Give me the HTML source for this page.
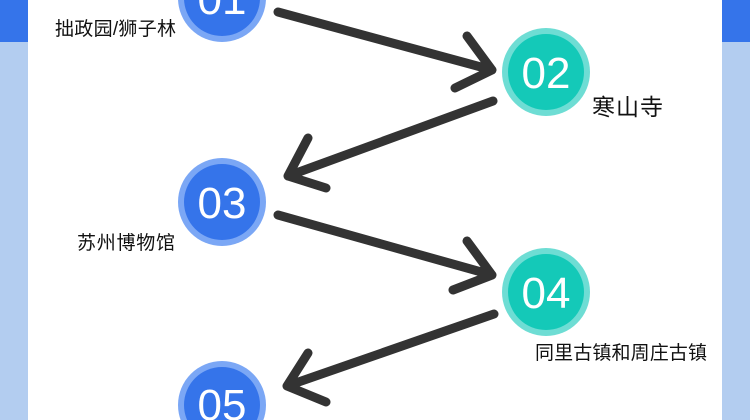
<!DOCTYPE html>
<html><head><meta charset="utf-8"><style>
html,body{margin:0;padding:0;background:#fff;width:750px;height:420px;overflow:hidden;}
body{position:relative;}
svg{position:absolute;left:0;top:0;display:block;}
</style></head><body>
<svg width="750" height="420" viewBox="0 0 750 420" xmlns="http://www.w3.org/2000/svg" overflow="hidden">
<rect x="0" y="0" width="28" height="42" fill="#3574EA"/>
<rect x="0" y="42" width="28" height="378" fill="#B3CDF0"/>
<rect x="722" y="0" width="28" height="42" fill="#3574EA"/>
<rect x="722" y="42" width="28" height="378" fill="#B3CDF0"/>
<g stroke="#333" stroke-width="9" stroke-linecap="round" stroke-linejoin="round" fill="none">
<path d="M278 12 L492 70 M467 36 L492 70 L455 88"/>
<path d="M493 101 L288 176 M308 138 L288 176 L326 188"/>
<path d="M278 215 L492 275 M467 241 L492 275 L453 290"/>
<path d="M494 314 L287 386 M308 353 L287 386 L326 402"/>
</g>
<g font-family="Liberation Sans, sans-serif" fill="#fff" text-anchor="middle">
<circle cx="222" cy="-2" r="44" fill="#7BA7F5"/><circle cx="222" cy="-2" r="38" fill="#3574EA"/>
<text x="222" y="14" font-size="44">01</text>
<circle cx="546" cy="72" r="44" fill="#6EDDD4"/><circle cx="546" cy="72" r="38" fill="#14C9B8"/>
<text x="546" y="88" font-size="44">02</text>
<circle cx="222" cy="202" r="44" fill="#7BA7F5"/><circle cx="222" cy="202" r="38" fill="#3574EA"/>
<text x="222" y="218" font-size="44">03</text>
<circle cx="546" cy="292" r="44" fill="#6EDDD4"/><circle cx="546" cy="292" r="38" fill="#14C9B8"/>
<text x="546" y="308" font-size="44">04</text>
<circle cx="222" cy="405" r="44" fill="#7BA7F5"/><circle cx="222" cy="405" r="38" fill="#3574EA"/>
<text x="222" y="420" font-size="44">05</text>
</g>
<g font-family="Liberation Sans, Noto Sans CJK SC, sans-serif" fill="#111">
<text x="55" y="35" font-size="19" textLength="121">拙政园/狮子林</text>
<text x="592" y="115" font-size="23" textLength="71">寒山寺</text>
<text x="77" y="249" font-size="19" textLength="98">苏州博物馆</text>
<text x="535" y="359" font-size="19" textLength="172">同里古镇和周庄古镇</text>
</g>
</svg>
</body></html>
